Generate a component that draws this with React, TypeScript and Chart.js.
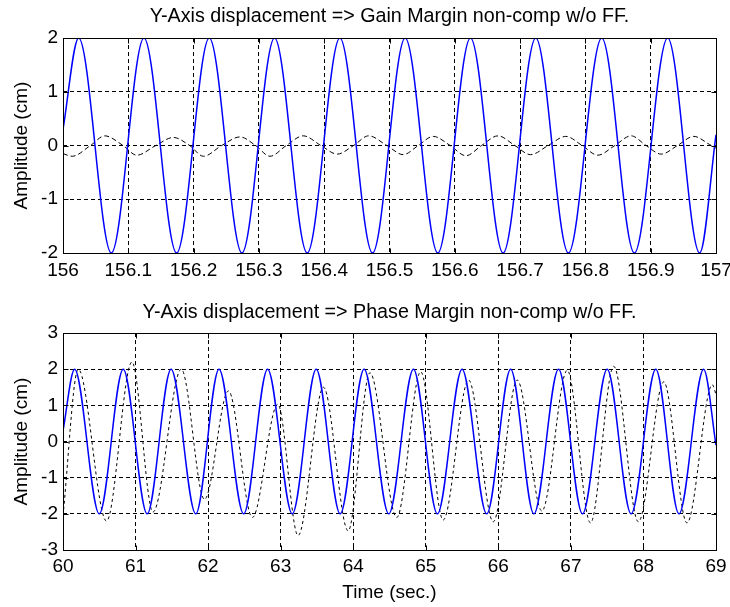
import React, { useEffect, useRef } from "react";
import { Chart, registerables } from "chart.js";

Chart.register(...registerables);

// ---------- texts ----------
const topTitle = "Y-Axis displacement => Gain Margin non-comp w/o FF.";
const bottomTitle = "Y-Axis displacement => Phase Margin non-comp w/o FF.";
const yAxisLabel = "Amplitude (cm)";
const xAxisLabel = "Time (sec.)";

// ---------- tick values ----------
const topXTicks = [156, 156.1, 156.2, 156.3, 156.4, 156.5, 156.6, 156.7, 156.8, 156.9, 157];
const topYTicks = [-2, -1, 0, 1, 2];
const bottomXTicks = [60, 61, 62, 63, 64, 65, 66, 67, 68, 69];
const bottomYTicks = [-3, -2, -1, 0, 1, 2, 3];

// ---------- top plot (Gain Margin) ----------
const topBlueTime = [156.0, 156.024, 156.074, 156.124, 156.174, 156.224, 156.274, 156.324, 156.374, 156.424, 156.474, 156.524, 156.574, 156.624, 156.674, 156.724, 156.774, 156.825, 156.875, 156.926, 156.975, 157.0];
const topBlueAmp = [0.3, 2, -2, 2, -2, 2, -2, 2, -2, 2, -2, 2, -2, 2, -2, 2, -2, 2, -2, 2, -2, 0.2];

const topBlackTime = [156.0, 156.014, 156.042, 156.064, 156.092, 156.113, 156.142, 156.169, 156.194, 156.215, 156.243, 156.271, 156.295, 156.317, 156.342, 156.368, 156.395, 156.42, 156.445, 156.468, 156.496, 156.521, 156.544, 156.567, 156.593, 156.617, 156.641, 156.666, 156.692, 156.716, 156.743, 156.77, 156.795, 156.819, 156.845, 156.87, 156.893, 156.916, 156.941, 156.966, 156.99, 157.0];
const topBlackAmp = [-0.15, -0.2, 0, 0.18, 0, -0.18, 0, 0.15, 0, -0.2, 0, 0.16, 0, -0.2, 0, 0.18, 0, -0.16, 0, 0.18, 0, -0.17, 0, 0.17, 0, -0.19, 0, 0.18, 0, -0.17, 0, 0.17, 0, -0.18, 0, 0.18, 0, -0.16, 0, 0.17, 0.02, -0.05];

// ---------- bottom plot (Phase Margin) ----------
const bottomBlueTime = [60.0, 60.16, 60.5, 60.83, 61.16, 61.49, 61.83, 62.15, 62.49, 62.82, 63.16, 63.49, 63.82, 64.15, 64.49, 64.83, 65.16, 65.5, 65.84, 66.17, 66.49, 66.83, 67.16, 67.5, 67.83, 68.17, 68.49, 68.83, 69.0];
const bottomBlueAmp = [0.3, 2, -2, 2, -2, 2, -2, 2, -2, 2, -2, 2, -2, 2, -2, 2, -2, 2, -2, 2, -2, 2, -2, 2, -2, 2, -2, 2, -0.1];

const bottomBlackTime = [60.0, 60.21, 60.6, 60.95, 61.24, 61.63, 61.95, 62.28, 62.61, 62.96, 63.24, 63.59, 63.93, 64.23, 64.6, 64.93, 65.24, 65.59, 65.93, 66.26, 66.6, 66.95, 67.27, 67.59, 67.93, 68.28, 68.6, 68.95, 69.0];
const bottomBlackAmp = [-2.05, 2.0, -2.2, 2.2, -1.95, 2.0, -1.6, 1.4, -2.1, 1.03, -2.6, 1.5, -2.47, 1.9, -2.1, 1.93, -2.17, 1.7, -2.22, 1.7, -1.92, 1.97, -2.25, 2.08, -2.22, 1.65, -2.25, 1.57, 1.3];

const FONT = "'Liberation Sans', Arial, Helvetica, sans-serif";
const BLUE = "#0000ff";

const pairs = (xs: number[], ys: number[]) => xs.map((x, i) => ({ x, y: ys[i] }));
const fmt = (v: any) => String(Number(Number(v).toFixed(1)));

const boxPlugin = {
  id: "matlabBox",
  afterDatasetsDraw(chart: any) {
    const { ctx, chartArea: a, scales } = chart;
    const L = Math.round(a.left) + 0.5;
    const R = Math.round(a.right) + 0.5;
    const T = Math.round(a.top) + 0.5;
    const B = Math.round(a.bottom) + 0.5;
    const len = 5;
    ctx.save();
    ctx.setLineDash([]);
    ctx.strokeStyle = "#000";
    ctx.lineWidth = 1;
    ctx.strokeRect(L, T, R - L, B - T);
    ctx.beginPath();
    scales.x.ticks.forEach((t: any) => {
      const px = Math.round(scales.x.getPixelForValue(t.value)) + 0.5;
      ctx.moveTo(px, B);
      ctx.lineTo(px, B - len);
      ctx.moveTo(px, T);
      ctx.lineTo(px, T + len);
    });
    scales.y.ticks.forEach((t: any) => {
      const py = Math.round(scales.y.getPixelForValue(t.value)) + 0.5;
      ctx.moveTo(L, py);
      ctx.lineTo(L + len, py);
      ctx.moveTo(R, py);
      ctx.lineTo(R - len, py);
    });
    ctx.stroke();
    ctx.restore();
  },
};

interface PlotSpec {
  title: string;
  titlePad: { top: number; bottom: number };
  xTicks: number[];
  yTicks: number[];
  xHeight: number;
  xTickPad: number;
  showXTitle: boolean;
  blue: { x: number; y: number }[];
  black: { x: number; y: number }[];
  blackDash: number[];
}

function makeConfig(s: PlotSpec): any {
  return {
    type: "line",
    data: {
      datasets: [
        {
          data: s.blue,
          borderColor: BLUE,
          borderWidth: 1.5,
          pointRadius: 0,
          cubicInterpolationMode: "monotone",
          fill: false,
        },
        {
          data: s.black,
          borderColor: "#000",
          borderWidth: 1,
          borderDash: s.blackDash,
          pointRadius: 0,
          cubicInterpolationMode: "monotone",
          fill: false,
        },
      ],
    },
    options: {
      responsive: false,
      animation: false,
      devicePixelRatio: 1,
      layout: { padding: { left: 0, right: 14, top: 0, bottom: 0 } },
      plugins: {
        legend: { display: false },
        tooltip: { enabled: false },
        title: {
          display: true,
          fullSize: false,
          text: s.title,
          color: "#000",
          font: { family: FONT, size: 19.7, weight: "normal" },
          padding: s.titlePad,
        },
      },
      scales: {
        x: {
          type: "linear",
          min: s.xTicks[0],
          max: s.xTicks[s.xTicks.length - 1],
          afterBuildTicks: (sc: any) => {
            sc.ticks = s.xTicks.map((v) => ({ value: v }));
          },
          afterFit: (sc: any) => {
            sc.height = s.xHeight;
            sc.paddingLeft = 0;
            sc.paddingRight = 0;
          },
          ticks: {
            autoSkip: false,
            maxRotation: 0,
            color: "#000",
            padding: s.xTickPad,
            font: { family: FONT, size: 19 },
            callback: fmt,
          },
          grid: { color: "#000", lineWidth: 1, drawTicks: false },
          border: { display: false, dash: [4, 3] },
          title: {
            display: s.showXTitle,
            text: xAxisLabel,
            color: "#000",
            font: { family: FONT, size: 19 },
            padding: { top: 0, bottom: 3 },
          },
        },
        y: {
          type: "linear",
          min: s.yTicks[0],
          max: s.yTicks[s.yTicks.length - 1],
          afterBuildTicks: (sc: any) => {
            sc.ticks = s.yTicks.map((v) => ({ value: v }));
          },
          afterFit: (sc: any) => {
            sc.width = 63;
            sc.paddingTop = 0;
            sc.paddingBottom = 0;
          },
          ticks: {
            autoSkip: false,
            color: "#000",
            padding: 5,
            font: { family: FONT, size: 19 },
            callback: fmt,
          },
          grid: { color: "#000", lineWidth: 1, drawTicks: false },
          border: { display: false, dash: [4, 3] },
          title: {
            display: true,
            text: yAxisLabel,
            color: "#000",
            font: { family: FONT, size: 19 },
            padding: { top: 10, bottom: 0 },
          },
        },
      },
    },
    plugins: [boxPlugin],
  };
}

export default function App() {
  const topRef = useRef<HTMLCanvasElement>(null);
  const bottomRef = useRef<HTMLCanvasElement>(null);

  useEffect(() => {
    const top = new Chart(
      topRef.current as HTMLCanvasElement,
      makeConfig({
        title: topTitle,
        titlePad: { top: 5, bottom: 9.4 },
        xTicks: topXTicks,
        yTicks: topYTicks,
        xHeight: 37,
        xTickPad: 6,
        showXTitle: false,
        blue: pairs(topBlueTime, topBlueAmp),
        black: pairs(topBlackTime, topBlackAmp),
        blackDash: [5, 3],
      })
    );
    const bottom = new Chart(
      bottomRef.current as HTMLCanvasElement,
      makeConfig({
        title: bottomTitle,
        titlePad: { top: 11.2, bottom: 8.2 },
        xTicks: bottomXTicks,
        yTicks: bottomYTicks,
        xHeight: 57,
        xTickPad: 5,
        showXTitle: true,
        blue: pairs(bottomBlueTime, bottomBlueAmp),
        black: pairs(bottomBlackTime, bottomBlackAmp),
        blackDash: [3, 3],
      })
    );
    return () => {
      top.destroy();
      bottom.destroy();
    };
  }, []);

  return (
    <div style={{ position: "absolute", left: 0, top: 0, width: 730, height: 607, background: "#fff" }}>
      <canvas ref={topRef} width={730} height={290} style={{ display: "block", width: 730, height: 290 }} />
      <canvas ref={bottomRef} width={730} height={317} style={{ display: "block", width: 730, height: 317 }} />
    </div>
  );
}
